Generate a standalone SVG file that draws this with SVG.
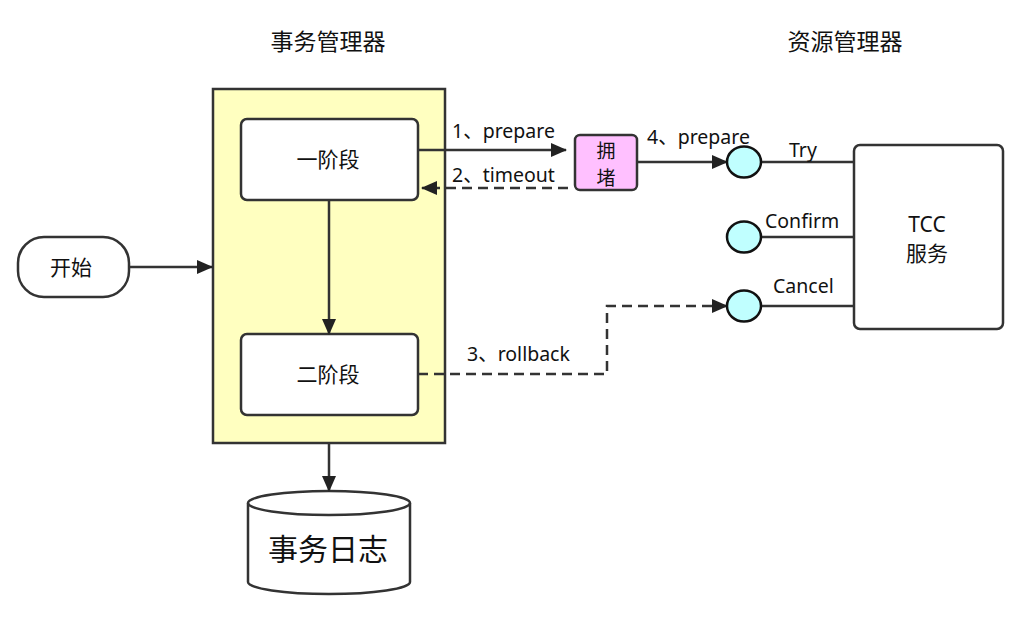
<svg xmlns="http://www.w3.org/2000/svg" width="1033" height="627" viewBox="0 0 1033 627">
<style>
text{font-family:"Noto Sans","Noto Sans CJK SC",sans-serif;fill:#111;}
.box{fill:#fff;stroke:#333;stroke-width:2.5;}
.ln{fill:none;stroke:#333;stroke-width:2.5;}
.dash{stroke-dasharray:10 6;}
.port{fill:#c0ffff;stroke:#111;stroke-width:2.5;}
.lbl{font-size:19.5px;}
.node{font-size:21px;text-anchor:middle;}
</style>
<defs>
<marker id="ah" markerUnits="userSpaceOnUse" markerWidth="16" markerHeight="14" refX="15" refY="7" orient="auto">
<path d="M0,0 L16,7 L0,14 z" fill="#222"/>
</marker>
</defs>
<rect width="1033" height="627" fill="#fff"/>
<text x="328" y="50" font-size="23" text-anchor="middle">事务管理器</text>
<text x="845" y="50" font-size="23" text-anchor="middle">资源管理器</text>
<g id="tm"><rect x="213" y="89" width="232" height="354" fill="#ffffc0" stroke="#333" stroke-width="2.5"/></g>
<g id="start"><rect class="box" x="18" y="237" width="111" height="60" rx="26"/><text class="node" x="71" y="275">开始</text></g>
<g id="phase1"><rect class="box" x="241" y="119" width="177" height="81" rx="6"/><text class="node" x="328" y="167">一阶段</text></g>
<g id="phase2"><rect class="box" x="241" y="334" width="177" height="81" rx="6"/><text class="node" x="328" y="382">二阶段</text></g>
<g id="log">
<path class="box" d="M248,503 L248,582 A81,12 0 0 0 410,582 L410,503 A81,12 0 0 0 248,503 Z"/>
<path class="ln" d="M248,503 A81,12 0 0 0 410,503"/>
<text x="328" y="560" font-size="30" text-anchor="middle">事务日志</text>
</g>
<g id="block"><rect x="575" y="135" width="62" height="55" rx="5" fill="#ffc0ff" stroke="#333" stroke-width="2.5"/><text x="606" y="158" font-size="19" text-anchor="middle">拥</text><text x="606" y="185" font-size="19" text-anchor="middle">堵</text></g>
<g id="tcc"><rect class="box" x="854" y="145" width="149" height="184" rx="6"/><text font-size="21" x="927" y="232" text-anchor="middle">TCC</text><text font-size="21" x="927" y="261" text-anchor="middle">服务</text></g>
<g id="connectors">
<path class="ln" d="M129,267 L212,267" marker-end="url(#ah)"/>
<path class="ln" d="M329,200 L329,334" marker-end="url(#ah)"/>
<path class="ln" d="M329,443 L329,491" marker-end="url(#ah)"/>
<path class="ln" d="M418,150 L566,150" marker-end="url(#ah)"/>
<path class="ln dash" d="M568,188 L422,188" marker-end="url(#ah)"/>
<path class="ln" d="M637,162 L727,162" marker-end="url(#ah)"/>
<path class="ln dash" d="M418,374 L607,374 L607,306 L727,306" marker-end="url(#ah)"/>
<path class="ln" d="M761,162 L854,162"/>
<path class="ln" d="M761,237 L854,237"/>
<path class="ln" d="M761,306 L854,306"/>
<text class="lbl" x="452" y="138">1、prepare</text>
<text class="lbl" x="452" y="182">2、timeout</text>
<text class="lbl" x="647" y="144">4、prepare</text>
<text class="lbl" x="467" y="361">3、rollback</text>
<text class="lbl" x="789" y="157">Try</text>
<text class="lbl" x="765" y="228">Confirm</text>
<text class="lbl" x="773" y="293">Cancel</text>
</g>
<g id="ports">
<ellipse class="port" cx="744" cy="162" rx="17" ry="15.5"/>
<ellipse class="port" cx="744" cy="237" rx="17" ry="15.5"/>
<ellipse class="port" cx="744" cy="306" rx="17" ry="15.5"/>
</g>
</svg>
